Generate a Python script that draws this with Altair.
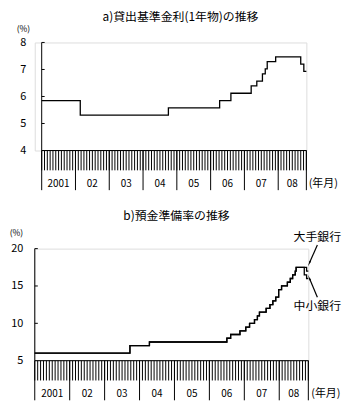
import altair as alt
import pandas as pd

FONT = "Noto Sans CJK JP"

# ---------------- data (month index: 0 = Jan 2001) ----------------
rate_month = [0, 13.7, 45.0, 63.2, 67.2, 74.4, 76.4, 78.4, 79.4, 80.1, 83.1, 92.0, 93.1, 94.0]
rate_value = [5.85, 5.31, 5.58, 5.85, 6.12, 6.39, 6.57, 6.84, 7.02, 7.29, 7.47, 7.20, 6.93, 6.93]

res_month = [0, 32.7, 39.4, 66.0, 67.3, 70.5, 72.5, 73.8, 75.5, 76.5, 77.2, 79.5, 80.8,
             81.8, 82.8, 83.8, 84.8, 86.8, 87.8, 88.6, 89.5, 89.8, 92.6, 93.4, 94.0]
res_large = [6, 7, 7.5, 8, 8.5, 9, 9.5, 10, 10.5, 11, 11.5, 12, 12.5,
             13, 13.5, 14.5, 15, 15.5, 16, 16.5, 17, 17.5, 17.5, 17, 17]
res_small = [6, 7, 7.5, 8, 8.5, 9, 9.5, 10, 10.5, 11, 11.5, 12, 12.5,
             13, 13.5, 14.5, 15, 15.5, 16, 16.5, 17, 17.5, 16.5, 16, 16]

year_start = [0, 12, 24, 36, 48, 60, 72, 84, 94]
year_mid = [6, 18, 30, 42, 54, 66, 78, 89]
year_label = ["2001", "02", "03", "04", "05", "06", "07", "08"]
months = list(range(0, 95))

a_labels = [4, 5, 6, 7, 8]
a_ticks = [5, 6, 7, 8]
b_labels = [5, 10, 15, 20]
b_ticks = [10, 15, 20]

ann_text = ["大手銀行", "中小銀行"]
ann_text_x = [97.1, 97.1]
ann_text_y = [21.5, 12.3]
arrow_x1 = [97.1, 97.1]
arrow_y1 = [20.5, 13.5]
arrow_x2 = [94.4, 94.4]
arrow_y2 = [18.1, 16.0]
arrow_angle = [204, 337]


def make_panel(title, title_px, title_dy, W, H, xdom, ydom, labels, ticks, label_pad,
               pct_x, pct_y, lines, extra=None):
    xs = alt.Scale(domain=xdom, nice=False, zero=False)
    ys = alt.Scale(domain=ydom, nice=False, zero=False)
    yaxis = alt.Axis(values=labels, domain=False, ticks=False, grid=False,
                     labelPadding=label_pad, labelFont=FONT, labelFontSize=11,
                     labelColor="black", title="(%)", titleAngle=0,
                     titleX=pct_x, titleY=pct_y, titleFont=FONT, titleFontSize=8.5,
                     titleFontWeight="normal", titleColor="black",
                     titleAlign="center", titleBaseline="middle")

    def X(f):
        return alt.X(f, type="quantitative", scale=xs, axis=None)

    def Y(f):
        return alt.Y(f, type="quantitative", scale=ys, axis=yaxis)

    ymin, ymax = ydom
    layers = []
    # y axis line
    layers.append(alt.Chart(pd.DataFrame({"m": [0], "a": [ymin], "b": [ymax]}))
                  .mark_rule(color="black", strokeWidth=1)
                  .encode(x=X("m"), y=Y("a"), y2="b"))
    # inward ticks
    layers.append(alt.Chart(pd.DataFrame({"m0": [0] * len(ticks), "m1": [1.05] * len(ticks), "v": ticks}))
                  .mark_rule(color="black", strokeWidth=1)
                  .encode(x=X("m0"), x2="m1", y=Y("v")))
    # baseline
    layers.append(alt.Chart(pd.DataFrame({"m0": [0], "m1": [94], "v": [ymin]}))
                  .mark_rule(color="black", strokeWidth=1)
                  .encode(x=X("m0"), x2="m1", y=Y("v")))
    # monthly ticks
    layers.append(alt.Chart(pd.DataFrame({"m": months, "v": [ymin] * len(months)}))
                  .mark_rule(color="black", strokeWidth=1)
                  .encode(x=X("m"), y=Y("v"), y2=alt.value(H + 20)))
    # year separators
    layers.append(alt.Chart(pd.DataFrame({"m": year_start, "v": [ymin] * len(year_start)}))
                  .mark_rule(color="black", strokeWidth=1)
                  .encode(x=X("m"), y=Y("v"), y2=alt.value(H + 40)))
    # year labels
    layers.append(alt.Chart(pd.DataFrame({"m": year_mid, "t": year_label}))
                  .mark_text(font=FONT, fontSize=10, color="black", baseline="middle")
                  .encode(x=X("m"), y=alt.value(H + 34), text="t:N"))
    # unit label
    layers.append(alt.Chart(pd.DataFrame({"m": [100.0], "t": ["(年月)"]}))
                  .mark_text(font=FONT, fontSize=11, color="black", baseline="middle")
                  .encode(x=X("m"), y=alt.value(H + 34), text="t:N"))
    # series
    for df in lines:
        layers.append(alt.Chart(df)
                      .mark_line(interpolate="step-after", color="black", strokeWidth=1.3)
                      .encode(x=X("m"), y=Y("v"), order="m:Q"))
    # title
    layers.append(alt.Chart(pd.DataFrame({"t": [title]}))
                  .mark_text(font=FONT, fontSize=12, color="black", baseline="middle")
                  .encode(x=alt.value(title_px), y=alt.value(title_dy), text="t:N"))
    if extra:
        layers.extend(extra(X, Y))
    return alt.layer(*layers).properties(width=W, height=H)


def annotations(X, Y):
    ta = pd.DataFrame({"x": ann_text_x, "y": ann_text_y, "t": ann_text})
    ar = pd.DataFrame({"x1": arrow_x1, "y1": arrow_y1, "x2": arrow_x2, "y2": arrow_y2,
                       "ang": arrow_angle})
    return [
        alt.Chart(ta).mark_text(font=FONT, fontSize=12, color="black", baseline="middle")
        .encode(x=X("x"), y=Y("y"), text="t:N"),
        alt.Chart(ar).mark_rule(color="black", strokeWidth=1.2)
        .encode(x=X("x1"), x2="x2", y=Y("y1"), y2="y2"),
        alt.Chart(ar).mark_point(shape="wedge", filled=True, color="black", size=45, opacity=1)
        .encode(x=X("x2"), y=Y("y2"), angle=alt.Angle("ang:Q", scale=None)),
    ]


df_rate = pd.DataFrame({"m": rate_month, "v": rate_value})
df_small = pd.DataFrame({"m": res_month, "v": res_small})
df_large = pd.DataFrame({"m": res_month, "v": res_large})

panel_a = make_panel("a)貸出基準金利(1年物)の推移", 147, -26, 274, 109, [-2.46, 94], [4, 8],
                     a_labels, a_ticks, 9, -12, -14, [df_rate])
panel_b = make_panel("b)預金準備率の推移", 143, -33, 276, 113, [0, 94], [5, 20],
                     b_labels, b_ticks, 12, -19, -16, [df_small, df_large],
                     extra=annotations)

chart = (alt.vconcat(panel_a, panel_b, spacing=18)
         .properties(padding={"left": 0, "top": 0, "right": 5, "bottom": 5})
         .configure_view(stroke=None)
         .configure(background="white"))

chart.save("out.html", embed_options={"renderer": "svg", "actions": False})
